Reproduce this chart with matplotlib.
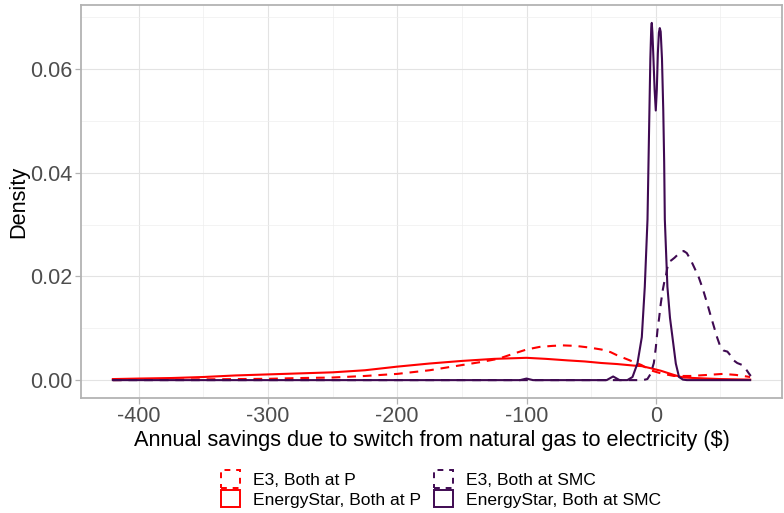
import matplotlib
matplotlib.use("Agg")
import matplotlib.pyplot as plt
from matplotlib.patches import Patch
from matplotlib.ticker import MultipleLocator

plt.rcParams['font.family'] = ['Liberation Sans', 'DejaVu Sans']
plt.rcParams['axes.unicode_minus'] = False

RED = "#FF0000"
PURPLE = "#3F0A52"

# E3, Both at P  (dashed red)
e3_p_x = [-420, -375, -325, -300, -275, -250, -225, -200, -175, -150, -135, -122,
          -110, -100, -90, -80, -72, -62, -52, -42, -35, -30, -23, -17, -11, -4,
          4, 14, 27, 40, 52, 62, 73]
e3_p_y = [0.0000, 0.0001, 0.0002, 0.00025, 0.0004, 0.0005, 0.0008, 0.0012, 0.0019,
          0.0029, 0.0035, 0.0041, 0.0051, 0.0059, 0.0064, 0.0066, 0.0067, 0.0066,
          0.0063, 0.0059, 0.0054, 0.0048, 0.0041, 0.0035, 0.0029, 0.0019, 0.0013,
          0.0008, 0.0008, 0.0010, 0.0012, 0.0010, 0.0006]

# EnergyStar, Both at P  (solid red)
es_p_x = [-420, -400, -375, -350, -325, -300, -275, -250, -225, -200, -175, -150,
          -125, -100, -85, -68, -55, -42, -30, -17, -11, -4, 4, 9, 14, 18, 22, 30,
          50, 73]
es_p_y = [0.0002, 0.0003, 0.0004, 0.0006, 0.0009, 0.0011, 0.0013, 0.0015, 0.0019,
          0.0026, 0.0032, 0.0037, 0.0041, 0.0043, 0.0041, 0.0038, 0.0036, 0.0033,
          0.0031, 0.0028, 0.0027, 0.0023, 0.0018, 0.0014, 0.0010, 0.0007, 0.0005,
          0.0004, 0.0002, 0.0001]

# E3, Both at SMC  (dashed purple)
e3_smc_x = [-420, -10, -6.5, -4, -1.5, 0, 1.3, 2.6, 3.9, 5.5, 6.5, 7.7, 8.8, 10, 12,
            14.5, 17, 19.5, 21.6, 24, 27, 30, 33.3, 36.5, 40, 42.5, 45, 47.5, 50.3,
            52.5, 55.4, 58, 60.3, 63, 65, 67, 69.5, 72, 73.5]
e3_smc_y = [0, 0, 0.0002, 0.0012, 0.0033, 0.0062, 0.0096, 0.0120, 0.0148, 0.0175,
            0.0188, 0.0199, 0.0215, 0.0228, 0.0231, 0.0236, 0.0242, 0.0247, 0.0249,
            0.0245, 0.0232, 0.0216, 0.0198, 0.0175, 0.0146, 0.0124, 0.0103, 0.0082,
            0.0062, 0.0057, 0.0055, 0.0047, 0.0038, 0.0033, 0.0031, 0.0029, 0.0022,
            0.0013, 0.0008]

# EnergyStar, Both at SMC  (solid purple)
es_smc_x = [-420, -105, -100, -95, -38, -33, -28, -22, -18, -14.2, -10.8, -8.5, -6.4,
            -5.2, -4.2, -3.5, -3.1, -2.6, -1.8, -0.9, 0, 0.8, 1.6, 2.4, 3.1, 3.8, 4.8,
            5.8, 6.5, 7.0, 9.0, 11.0, 12.9, 15.5, 18, 21, 24, 73]
es_smc_y = [0, 0, 0.0003, 0, 0, 0.0007, 0, 0, 0.0006, 0.0032, 0.0083, 0.018, 0.031,
            0.048, 0.062, 0.0680, 0.0689, 0.067, 0.062, 0.056, 0.052, 0.056, 0.063,
            0.0670, 0.0679, 0.0672, 0.062, 0.052, 0.042, 0.031, 0.018, 0.012, 0.0083,
            0.0032, 0.0006, 0.0001, 0, 0]

labels = ["E3, Both at P", "EnergyStar, Both at P",
          "E3, Both at SMC", "EnergyStar, Both at SMC"]

fig = plt.figure(figsize=(7.84, 5.13), dpi=100)
ax = fig.add_axes([81 / 784, 1 - 398 / 513, 701 / 784, 393 / 513])

lw = 1.5
dash = (4.2, 3.3)
ax.plot(e3_p_x, e3_p_y, color=RED, lw=lw, dashes=dash)
ax.plot(es_p_x, es_p_y, color=RED, lw=lw)
ax.plot(e3_smc_x, e3_smc_y, color=PURPLE, lw=lw, dashes=dash)
ax.plot(es_smc_x, es_smc_y, color=PURPLE, lw=lw)

ax.set_xlim(-444.65, 97.65)
ax.set_ylim(-0.00345, 0.07235)
ax.xaxis.set_major_locator(MultipleLocator(100))
ax.xaxis.set_minor_locator(MultipleLocator(50))
ax.yaxis.set_major_locator(MultipleLocator(0.02))
ax.yaxis.set_minor_locator(MultipleLocator(0.01))
ax.yaxis.set_major_formatter(plt.FuncFormatter(lambda v, p: f"{v:.2f}"))

ax.grid(which="major", color="#E3E3E3", lw=0.8)
ax.grid(which="minor", color="#EEEEEE", lw=0.5)
ax.set_axisbelow(True)
for s in ax.spines.values():
    s.set_color("#B3B3B3")
    s.set_linewidth(1.3)
ax.tick_params(which="major", length=4, width=0.9, color="#B3B3B3",
               labelsize=15.5, labelcolor="#4D4D4D", pad=2)
ax.tick_params(which="minor", length=0)

ax.set_xlabel("Annual savings due to switch from natural gas to electricity ($)",
              fontsize=15.7, labelpad=2)
ax.set_ylabel("Density", fontsize=15.7, labelpad=1)

handles = [
    Patch(facecolor="none", edgecolor=RED, linestyle=(0, (3, 3)), lw=1.4),
    Patch(facecolor="none", edgecolor=RED, lw=1.4),
    Patch(facecolor="none", edgecolor=PURPLE, linestyle=(0, (3, 3)), lw=1.4),
    Patch(facecolor="none", edgecolor=PURPLE, lw=1.4),
]
fig.legend(handles, labels, ncol=2, loc="lower center",
           bbox_to_anchor=(441 / 784, -0.02),
           frameon=False, fontsize=12.6, handlelength=1.1, handleheight=1.15,
           handletextpad=0.75, columnspacing=0.75, labelspacing=0.12)

fig.savefig("out.png", dpi=100)
